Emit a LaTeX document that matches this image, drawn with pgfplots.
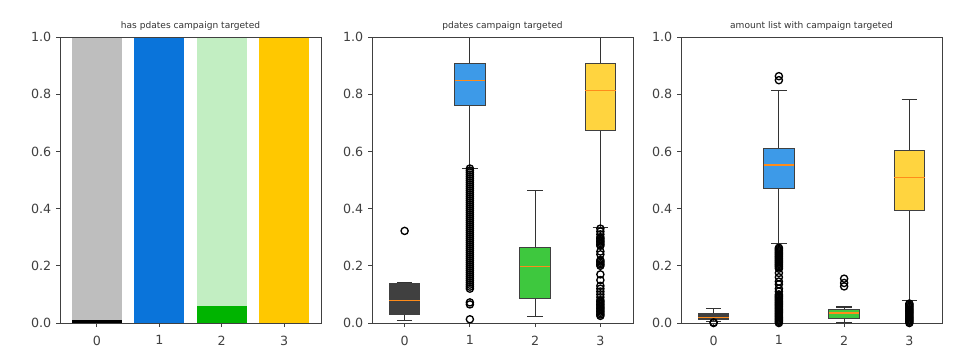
\documentclass[border=0pt]{standalone}
\usepackage{pgfplots}
\pgfplotsset{compat=1.18}
\usepgfplotslibrary{statistics}
\usepackage{fontspec}
\setmainfont{DejaVu Sans}
\definecolor{bgray}{HTML}{BEBEBE}
\definecolor{bblue}{HTML}{0A74DA}
\definecolor{blgreen}{HTML}{C2EEC2}
\definecolor{bgreen}{HTML}{00B400}
\definecolor{bgold}{HTML}{FFC800}
\definecolor{xgray}{HTML}{404040}
\definecolor{xblue}{HTML}{3D9AE8}
\definecolor{xgreen}{HTML}{3EC83E}
\definecolor{xgold}{HTML}{FFD43F}
\definecolor{medor}{HTML}{FF8C1A}
\pgfplotsset{
  mystyle/.style={scale only axis, width=195.75pt, height=214.5pt, anchor=south west,
    ymin=0, ymax=1, ytick={0,0.2,0.4,0.6,0.8,1}, xtick={0,1,2,3},
    yticklabel style={/pgf/number format/.cd, fixed, fixed zerofill, precision=1},
    xticklabel style={yshift=-3pt},
    /pgf/number format/assume math mode=true,
    tick label style={font=\fontsize{9.5}{11}\selectfont, text=black!75},
    axis line style={black!75}, tick style={black!75, line width=0.6pt},
    tick align=outside, major tick length=3pt, xtick pos=left, ytick pos=left,
    title style={font=\fontsize{6.8}{8}\selectfont, text=black!80, at={(0.5,1)}, anchor=base, yshift=0.5pt},
    boxplot/draw direction=y,
    axis on top},
  bx/.style={boxplot/every box/.style={fill=#1, draw=black!75, line width=0.7pt},
    boxplot/every median/.style={draw=medor, line width=1pt},
    boxplot/every whisker/.style={draw=black!80, line width=0.9pt},
    draw=black!80, mark=o, mark size=2.7pt, mark options={draw=black, line width=1pt}},
}
\begin{document}
\begin{tikzpicture}
\path[use as bounding box] (0,0) rectangle (720pt,271.5pt);
% Panel 1
\begin{axis}[mystyle, at={(45pt,29.25pt)}, xmin=-0.59, xmax=3.59, title={has pdates campaign targeted}]
\addplot[ybar, bar width=0.8, bar shift=0pt, fill=bgray, draw=none] coordinates {(0,1.0)};
\addplot[ybar, bar width=0.8, bar shift=0pt, fill=blgreen, draw=none] coordinates {(2,1.0)};
\addplot[ybar, bar width=0.8, bar shift=0pt, fill=black, draw=none] coordinates {(0,0.01)};
\addplot[ybar, bar width=0.8, bar shift=0pt, fill=bblue, draw=none] coordinates {(1,1.0)};
\addplot[ybar, bar width=0.8, bar shift=0pt, fill=bgreen, draw=none] coordinates {(2,0.06)};
\addplot[ybar, bar width=0.8, bar shift=0pt, fill=bgold, draw=none] coordinates {(3,1.0)};
\end{axis}
% Panel 2
\begin{axis}[mystyle, at={(279pt,29.25pt)}, xmin=-0.5, xmax=3.5, title={pdates campaign targeted}]
\addplot[bx=xgray, boxplot prepared={draw position=0, lower whisker=0.009, lower quartile=0.029, median=0.078, upper quartile=0.137, upper whisker=0.142, box extend=0.47, whisker extend=0.235}]
 coordinates {(0,0.322)};
\addplot[bx=xblue, boxplot prepared={draw position=1, lower whisker=0.541, lower quartile=0.762, median=0.847, upper quartile=0.909, upper whisker=1.0, box extend=0.47, whisker extend=0.235}]
 coordinates {(1,0.013) (1,0.065) (1,0.072) (1,0.120) (1,0.127) (1,0.134) (1,0.141) (1,0.148) (1,0.155) (1,0.162) (1,0.169) (1,0.176) (1,0.183) (1,0.190) (1,0.197) (1,0.204) (1,0.211) (1,0.218) (1,0.225) (1,0.232) (1,0.239) (1,0.246) (1,0.253) (1,0.260) (1,0.267) (1,0.274) (1,0.281) (1,0.288) (1,0.295) (1,0.302) (1,0.309) (1,0.316) (1,0.323) (1,0.330) (1,0.337) (1,0.344) (1,0.351) (1,0.358) (1,0.365) (1,0.372) (1,0.379) (1,0.386) (1,0.393) (1,0.400) (1,0.407) (1,0.414) (1,0.421) (1,0.428) (1,0.435) (1,0.442) (1,0.449) (1,0.456) (1,0.463) (1,0.470) (1,0.477) (1,0.484) (1,0.491) (1,0.498) (1,0.505) (1,0.512) (1,0.519) (1,0.526) (1,0.533) (1,0.540)};
\addplot[bx=xgreen, boxplot prepared={draw position=2, lower whisker=0.023, lower quartile=0.087, median=0.198, upper quartile=0.265, upper whisker=0.463, box extend=0.47, whisker extend=0.235}]
 coordinates {};
\addplot[bx=xgold, boxplot prepared={draw position=3, lower whisker=0.335, lower quartile=0.674, median=0.812, upper quartile=0.909, upper whisker=1.0, box extend=0.47, whisker extend=0.235}]
 coordinates {(3,0.025) (3,0.03) (3,0.035) (3,0.04) (3,0.045) (3,0.05) (3,0.055) (3,0.06) (3,0.065) (3,0.07) (3,0.075) (3,0.08) (3,0.09) (3,0.10) (3,0.11) (3,0.12) (3,0.13) (3,0.15) (3,0.17) (3,0.20) (3,0.205) (3,0.21) (3,0.215) (3,0.22) (3,0.24) (3,0.25) (3,0.27) (3,0.275) (3,0.28) (3,0.285) (3,0.29) (3,0.295) (3,0.30) (3,0.31) (3,0.32) (3,0.33)};
\end{axis}
% Panel 3
\begin{axis}[mystyle, at={(510.75pt,29.25pt)}, xmin=-0.5, xmax=3.5, title={amount list with campaign targeted}]
\addplot[bx=xgray, boxplot prepared={draw position=0, lower whisker=0.006, lower quartile=0.012, median=0.020, upper quartile=0.033, upper whisker=0.050, box extend=0.47, whisker extend=0.235}]
 coordinates {(0,0.0) (0,0.002)};
\addplot[bx=xblue, boxplot prepared={draw position=1, lower whisker=0.279, lower quartile=0.469, median=0.552, upper quartile=0.610, upper whisker=0.812, box extend=0.47, whisker extend=0.235}]
 coordinates {(1,0.000) (1,0.004) (1,0.008) (1,0.012) (1,0.016) (1,0.020) (1,0.024) (1,0.028) (1,0.032) (1,0.036) (1,0.040) (1,0.044) (1,0.048) (1,0.052) (1,0.056) (1,0.060) (1,0.064) (1,0.068) (1,0.072) (1,0.076) (1,0.080) (1,0.084) (1,0.088) (1,0.092) (1,0.096) (1,0.100) (1,0.110) (1,0.120) (1,0.135) (1,0.145) (1,0.160) (1,0.175) (1,0.190) (1,0.195) (1,0.199) (1,0.203) (1,0.207) (1,0.211) (1,0.215) (1,0.219) (1,0.223) (1,0.227) (1,0.231) (1,0.235) (1,0.239) (1,0.243) (1,0.247) (1,0.251) (1,0.255) (1,0.259) (1,0.263) (1,0.849) (1,0.863)};
\addplot[bx=xgreen, boxplot prepared={draw position=2, lower whisker=0.003, lower quartile=0.017, median=0.035, upper quartile=0.047, upper whisker=0.056, box extend=0.47, whisker extend=0.235}]
 coordinates {(2,0.128) (2,0.140) (2,0.155)};
\addplot[bx=xgold, boxplot prepared={draw position=3, lower whisker=0.078, lower quartile=0.395, median=0.509, upper quartile=0.605, upper whisker=0.781, box extend=0.47, whisker extend=0.235}]
 coordinates {(3,0.000) (3,0.004) (3,0.008) (3,0.012) (3,0.016) (3,0.020) (3,0.024) (3,0.028) (3,0.032) (3,0.036) (3,0.040) (3,0.044) (3,0.048) (3,0.052) (3,0.056) (3,0.060) (3,0.064) (3,0.068)};
\end{axis}
\end{tikzpicture}
\end{document}
